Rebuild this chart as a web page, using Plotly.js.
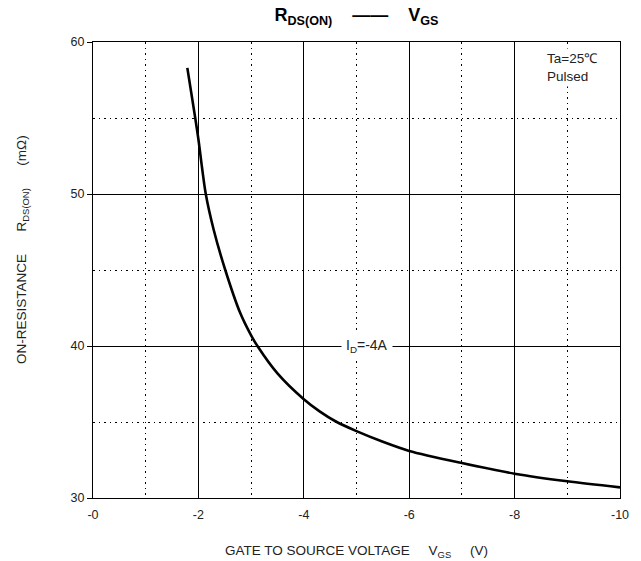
<!DOCTYPE html>
<html>
<head>
<meta charset="utf-8">
<script src="https://cdn.plot.ly/plotly-3.0.1.min.js"></script>
<style>html,body{margin:0;padding:0;background:#fff;}#chart{width:641px;height:561px;}</style>
</head>
<body>
<div id="chart"></div>
<script>
var vgs = [-1.79, -1.94, -2.0, -2.14, -2.29, -2.51, -2.79, -3.0, -3.12, -3.5, -4.0, -4.3, -4.6, -5.0, -5.5, -6.0, -7.0, -8.0, -9.0, -10.0];
var rds = [58.3, 55.0, 53.6, 50.0, 47.65, 45.0, 42.2, 40.7, 40.0, 38.2, 36.5, 35.7, 35.05, 34.4, 33.7, 33.1, 32.3, 31.6, 31.1, 30.7];
var xTickVals = [0, -2, -4, -6, -8, -10];
var xTickText = ["-0", "-2", "-4", "-6", "-8", "-10"];
var yTickVals = [30, 40, 50, 60];
var yTickText = ["30", "40", "50", "60"];

var font = "Liberation Sans, Arial, sans-serif";
var nb = "\u00A0";
function sp(n){ return nb.repeat(n); }
var trace = {
  x: vgs, y: rds, type: "scatter", mode: "lines",
  line: {color: "#000", width: 2.6, shape: "spline", smoothing: 0.8},
  hoverinfo: "skip"
};
var dotDash = "1.5px,4px";
var plotH = 561 - 42 - 63;
var plotW = 641 - 93 - 21;
var layout = {
  width: 641, height: 561,
  margin: {l: 93, r: 21, t: 42, b: 63},
  paper_bgcolor: "#fff", plot_bgcolor: "#fff",
  showlegend: false,
  font: {family: font, color: "#222", size: 12},
  title: {
    text: "<b>R<sub>DS(ON)</sub>" + sp(4) + "——" + sp(4) + "V<sub>GS</sub></b>",
    font: {family: font, size: 18, color: "#000"},
    x: 0.5, xref: "paper", y: 0.985, yref: "container", yanchor: "top"
  },
  xaxis: {
    range: [0, -10], tickvals: xTickVals, ticktext: xTickText,
    showgrid: true, gridcolor: "#000", gridwidth: 1,
    showline: true, linecolor: "#000", linewidth: 1, mirror: true,
    zeroline: false, ticks: "", ticklabelstandoff: 5, tickfont: {size: 12.5, color: "#222"},
    minor: {dtick: 1, tick0: 0, showgrid: true, gridcolor: "#000", gridwidth: 1, griddash: dotDash, ticks: ""},
    title: {text: "GATE TO SOURCE VOLTAGE" + sp(5) + "V<sub>GS</sub>" + sp(5) + "(V)", font: {size: 13.5, color: "#222"}, standoff: 24}
  },
  yaxis: {
    range: [30, 60], tickvals: yTickVals, ticktext: yTickText,
    showgrid: true, gridcolor: "#000", gridwidth: 1,
    showline: true, linecolor: "#000", linewidth: 1, mirror: true,
    zeroline: false, ticks: "outside", ticklen: 5, tickcolor: "#000", tickfont: {size: 12.5, color: "#222"},
    minor: {dtick: 5, tick0: 0, showgrid: true, gridcolor: "#000", gridwidth: 1, griddash: dotDash, ticks: ""}
  },
  annotations: [
    {xref: "paper", yref: "paper",
     x: (22 - 93) / plotW, y: (561 - 63 - 250) / plotH,
     xanchor: "center", yanchor: "middle", textangle: -90, showarrow: false,
     text: "ON-RESISTANCE" + sp(6) + "R<sub>DS(ON)</sub>" + sp(6) + "(mΩ)",
     font: {size: 13.5, color: "#222"}},
    {x: -5.19, y: 40, xref: "x", yref: "y", text: "I<sub>D</sub>=-4A", showarrow: false,
     bgcolor: "#fff", font: {size: 14, color: "#222"}, borderpad: 4},
    {x: -8.55, y: 59.6, xref: "x", yref: "y", xanchor: "left", yanchor: "top", align: "left",
     text: "Ta=25℃<br>Pulsed", showarrow: false, bgcolor: "#fff", font: {size: 13.5, color: "#222"}, borderpad: 2}
  ]
};
Plotly.newPlot("chart", [trace], layout, {displayModeBar: false, staticPlot: true});
</script>
</body>
</html>
